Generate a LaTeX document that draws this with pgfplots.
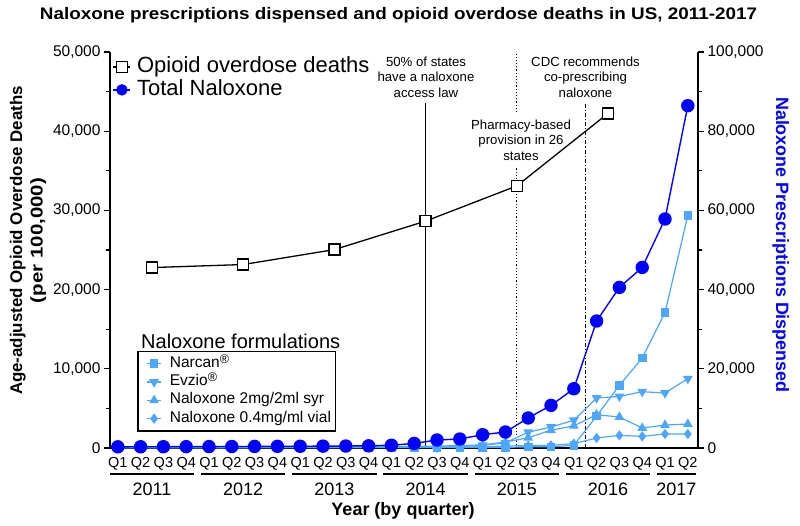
\documentclass[border=0pt]{standalone}
\usepackage{fontspec}
\setmainfont{Liberation Sans}
\usepackage{graphicx}
\usepackage{pgfplots}
\pgfplotsset{compat=1.18}
\definecolor{nblue}{RGB}{0,0,255}
\definecolor{lblue}{RGB}{77,166,255}
\newcommand{\reg}{\raisebox{0.25em}{\fontsize{12.5pt}{12pt}\selectfont ®}}
\begin{document}
\begin{tikzpicture}
\path[use as bounding box] (0pt,0pt) rectangle (800pt,-525pt);
% ---------- left axis: opioid overdose deaths ----------
\begin{axis}[
  at={(110pt,-448pt)}, anchor=south west,
  scale only axis, width=588pt, height=396pt,
  xmin=-0.342, xmax=25.447, ymin=0, ymax=50000,
  axis x line=bottom, axis y line=left,
  axis line style={-, line width=1.2pt},
  every x tick/.style={draw=none},
  xtick={0,...,25},
  xticklabels={Q1,Q2,Q3,Q4,Q1,Q2,Q3,Q4,Q1,Q2,Q3,Q4,Q1,Q2,Q3,Q4,Q1,Q2,Q3,Q4,Q1,Q2,Q3,Q4,Q1,Q2},
  x tick label style={font=\fontsize{14.5pt}{16pt}\selectfont, inner sep=1pt, yshift=-2pt},
  ytick={0,10000,20000,30000,40000,50000},
  minor y tick num=1,
  tick align=outside,
  major tick length=6pt, minor tick length=4pt,
  tick style={black, line width=1.1pt},
  y tick label style={font=\fontsize{15.5pt}{18pt}\selectfont},
  scaled y ticks=false,
  /pgf/number format/fixed,
  /pgf/number format/1000 sep={,},
  /pgf/number format/assume math mode=true,
  ylabel={Age-adjusted Opioid Overdose Deaths\\\resizebox{125pt}{\height}{\fontsize{17pt}{19pt}\selectfont (per 100,000)}},
  ylabel style={align=center, font=\bfseries\fontsize{16.9pt}{20.5pt}\selectfont, at={(ticklabel cs:0.524)}},
  clip=false,
  legend cell align=left,
  legend style={at={(axis description cs:0,0.992)}, anchor=north west, draw=none, fill=none,
    font=\fontsize{22pt}{24pt}\selectfont, inner sep=0pt, row sep=0pt, column sep=5pt,
    nodes={inner sep=1pt, text height=16pt, text depth=5pt}},
  legend image code/.code={\path (0pt,0pt); \draw[mark repeat=2,mark phase=2] plot coordinates {(2.5pt,0pt) (11pt,0pt) (19.5pt,0pt)};},
]
\draw[line width=1.2pt] (axis cs:13.5,0) -- (axis cs:13.5,43560);
\draw[line width=1.2pt, dash pattern=on 1.2pt off 2pt] (axis cs:17.5,0) -- (axis cs:17.5,35300);
\draw[line width=1.2pt, dash pattern=on 1.2pt off 2pt] (axis cs:17.5,42400) -- (axis cs:17.5,49700);
\draw[line width=1.2pt, dash pattern=on 4pt off 2pt on 1.2pt off 2pt] (axis cs:20.5,0) -- (axis cs:20.5,43560);
\addplot[black, line width=1.3pt, mark=square*, mark size=5.5pt,
  mark options={fill=white, draw=black, line width=1.3pt, solid}]
  coordinates {(1.5,22784) (5.5,23166) (9.5,25052) (13.5,28647) (17.5,33091) (21.5,42249)};
\addlegendentry{Opioid overdose deaths}
\addlegendimage{nblue, line width=1.4pt, mark=*, mark size=5pt}
\addlegendentry{Total Naloxone}
\end{axis}
% ---------- right axis: naloxone prescriptions ----------
\begin{axis}[
  at={(110pt,-448pt)}, anchor=south west,
  scale only axis, width=588pt, height=396pt,
  xmin=-0.342, xmax=25.447, ymin=0, ymax=100000,
  axis x line=none, axis y line=right, xtick=\empty,
  axis line style={-, line width=1.2pt},
  ytick={0,20000,40000,60000,80000,100000},
  minor y tick num=1,
  tick align=outside,
  major tick length=6pt, minor tick length=4pt,
  tick style={black, line width=1.1pt},
  y tick label style={font=\fontsize{15.5pt}{18pt}\selectfont},
  scaled y ticks=false,
  /pgf/number format/fixed,
  /pgf/number format/1000 sep={,},
  /pgf/number format/assume math mode=true,
  ylabel={Naloxone Prescriptions Dispensed},
  ylabel style={font=\bfseries\fontsize{17.9pt}{20pt}\selectfont, text=nblue, rotate=180, at={(ticklabel cs:0.513)}},
  ylabel shift=2pt,
  clip=false,
  legend cell align=left,
  legend style={at={(axis description cs:0.0459,0.041)}, anchor=south west, draw=black, line width=1.6pt, fill=white,
    font=\fontsize{15.5pt}{17pt}\selectfont, inner sep=3.2pt, row sep=0pt, column sep=7pt,
    nodes={inner sep=1.2pt, text height=11.6pt, text depth=4.3pt}},
  legend image code/.code={\path (0pt,0pt); \draw[mark repeat=2,mark phase=2] plot coordinates {(5.5pt,0pt) (12.5pt,0pt) (19.5pt,0pt)};},
]
\addplot[lblue, line width=1.2pt, mark=square*, mark size=3.7pt, mark options={solid, fill=lblue}]
  coordinates {(0,100) (1,100) (2,100) (3,100) (4,100) (5,100) (6,100) (7,100) (8,100) (9,100) (10,100) (11,100)
  (12,120) (13,130) (14,140) (15,150) (16,150) (17,160) (18,300) (19,300) (20,660) (21,8080) (22,15810) (23,22720) (24,34240) (25,58660)};
\addlegendentry{Narcan\reg}
\addplot[lblue, line width=1.2pt, mark=triangle*, mark size=4.5pt, mark options={solid, fill=lblue, rotate=180}]
  coordinates {(14,150) (15,400) (16,700) (17,1300) (18,4000) (19,5300) (20,7000) (21,12630) (22,13030) (23,14220) (24,13890) (25,17500)};
\addlegendentry{Evzio\reg}
\addplot[lblue, line width=1.2pt, mark=triangle*, mark size=4.5pt, mark options={solid, fill=lblue}]
  coordinates {(0,150) (1,160) (2,170) (3,180) (4,190) (5,200) (6,210) (7,220) (8,240) (9,260) (10,280) (11,300)
  (12,350) (13,400) (14,500) (15,600) (16,800) (17,1500) (18,2600) (19,4500) (20,5600) (21,8400) (22,7830) (23,5050) (24,5800) (25,6060)};
\addlegendentry{Naloxone 2mg/2ml syr}
\addplot[lblue, line width=1.2pt, mark=diamond*, mark size=4.2pt, mark options={solid, fill=lblue}]
  coordinates {(0,50) (1,55) (2,60) (3,65) (4,70) (5,80) (6,90) (7,100) (8,110) (9,120) (10,130) (11,150)
  (12,200) (13,220) (14,250) (15,280) (16,300) (17,500) (18,600) (19,660) (20,1090) (21,2530) (22,3190) (23,2940) (24,3540) (25,3540)};
\addlegendentry{Naloxone 0.4mg/ml vial\hspace{9pt}}
\addplot[nblue, line width=1.4pt, mark=*, mark size=6pt, mark options={solid}, forget plot]
  coordinates {(0,300) (1,310) (2,330) (3,340) (4,360) (5,380) (6,400) (7,420) (8,440) (9,470) (10,500) (11,560)
  (12,700) (13,1160) (14,2020) (15,2270) (16,3360) (17,4040) (18,7580) (19,10760) (20,14970) (21,32070) (22,40560) (23,45600) (24,57830) (25,86440)};
\end{axis}
% ---------- texts ----------
\node[anchor=base, font=\bfseries\fontsize{16.7pt}{20pt}\selectfont] at (398.5pt,-19pt)
  {\resizebox{717pt}{\height}{Naloxone prescriptions dispensed and opioid overdose deaths in US, 2011-2017}};
\node[align=center, font=\fontsize{13.2pt}{15.5pt}\selectfont] at (426pt,-77pt) {50\% of states\\have a naloxone\\access law};
\node[align=center, font=\fontsize{13.2pt}{15.5pt}\selectfont] at (521pt,-140pt) {Pharmacy-based\\provision in 26\\states};
\node[align=center, font=\fontsize{13.2pt}{15.5pt}\selectfont] at (585.5pt,-77pt) {CDC recommends\\co-prescribing\\naloxone};
\node[anchor=west, font=\fontsize{20pt}{24pt}\selectfont, inner sep=0pt] at (141pt,-341pt) {Naloxone formulations};
% year groups
\foreach \yr [count=\k from 0] in {2011,2012,2013,2014,2015,2016} {
  \pgfmathsetmacro\xa{117.8+22.8*(4*\k-0.35)}
  \pgfmathsetmacro\xb{117.8+22.8*(4*\k+3.35)}
  \pgfmathsetmacro\xc{117.8+22.8*(4*\k+1.5)}
  \draw[line width=1.3pt] (\xa pt,-474pt) -- (\xb pt,-474pt);
  \node[font=\fontsize{18pt}{20pt}\selectfont] at (\xc pt,-489pt) {\yr};
}
\pgfmathsetmacro\xa{117.8+22.8*23.65}
\pgfmathsetmacro\xb{117.8+22.8*25.35}
\pgfmathsetmacro\xc{117.8+22.8*24.5}
\draw[line width=1.3pt] (\xa pt,-474pt) -- (\xb pt,-474pt);
\node[font=\fontsize{18pt}{20pt}\selectfont] at (\xc pt,-489pt) {2017};
\node[font=\bfseries\fontsize{18pt}{20pt}\selectfont] at (403pt,-511pt) {Year (by quarter)};
\end{tikzpicture}
\end{document}
